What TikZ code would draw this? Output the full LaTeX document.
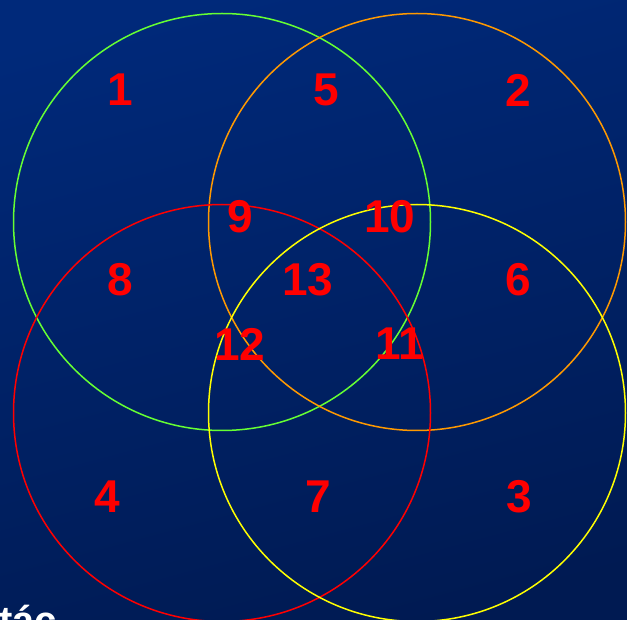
\documentclass[tikz,border=0pt]{standalone}
\usepackage{fontspec}
\setmainfont{Liberation Sans}
\usetikzlibrary{positioning,calc}
\definecolor{vennBgTop}{HTML}{00297A}
\definecolor{vennBgBot}{HTML}{001A52}
\definecolor{vennGreenLine}{HTML}{66FF33}
\definecolor{vennOrangeLine}{HTML}{FF9900}
\definecolor{vennRedLine}{HTML}{FF0000}
\definecolor{vennYellowLine}{HTML}{FFFF00}
\tikzset{
  set ring/.style={line width=1.5pt},
  region num/.style={
    text=vennRedLine, font=\fontsize{46}{46}\selectfont\bfseries,
    inner sep=0pt, anchor=center,
  },
}

\begin{document}
\begin{tikzpicture}[x=1pt, y=-1pt]

% Background (canvas in pixel units, origin top left)
\useasboundingbox (0, 0) rectangle (627, 620);
\shade[top color=vennBgTop, bottom color=vennBgBot, shading angle=15]
  (-20, -20) rectangle (647, 640);

% Four sets
\def\rSet{208.5}
\draw[set ring, vennGreenLine]  (222, 222) circle (\rSet);
\draw[set ring, vennOrangeLine] (417, 222) circle (\rSet);
\draw[set ring, vennRedLine]    (222, 413) circle (\rSet);
\draw[set ring, vennYellowLine] (417, 413) circle (\rSet);

% Region numbers
\foreach \n/\x/\y in {1/120/90, 5/326/90, 2/518/90,
                      9/240/217, 10/390/217,
                      8/120/280, 13/308/280, 6/518/280,
                      12/240/344, 11/400/344,
                      4/107/497, 7/318/497, 3/519/497} {
  \node[region num] (reg\n) at (\x, \y) {\n};
}

% Caption cut off at the lower edge
\node[anchor=base west, inner sep=0pt, text=white,
      font=\fontsize{40}{40}\selectfont\bfseries] (caption) at (-1, 634) {tác};

\end{tikzpicture}
\end{document}
